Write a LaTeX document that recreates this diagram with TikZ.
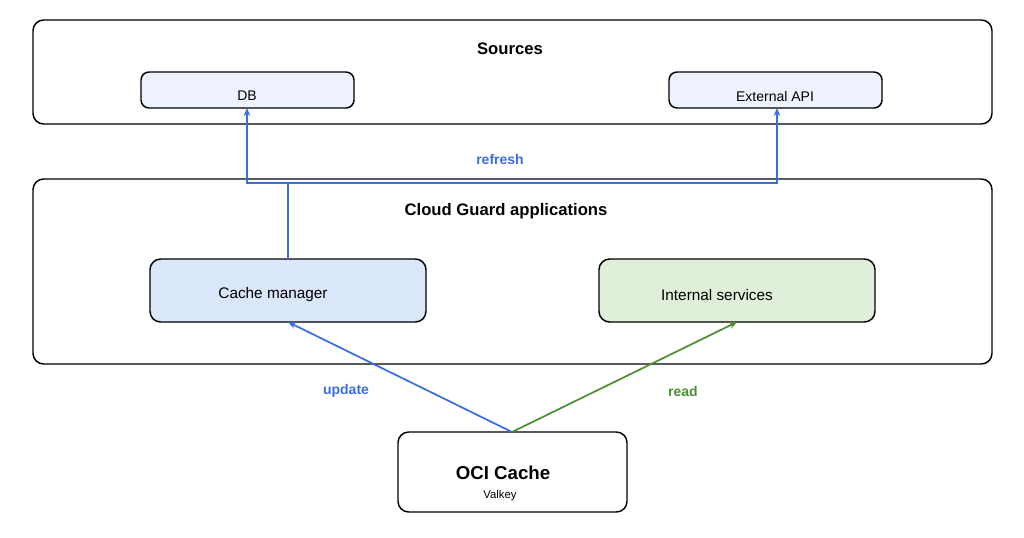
\documentclass[tikz,border=0pt]{standalone}
\usepackage{fontspec}
\setmainfont{Liberation Sans}
\usetikzlibrary{arrows.meta}
\definecolor{bl}{HTML}{3B6FE0}
\definecolor{gr}{HTML}{4E8F33}
\definecolor{lb}{HTML}{EDF2FD}
\definecolor{cb}{HTML}{DAE6FA}
\definecolor{cg}{HTML}{E0EFD9}
\begin{document}
\begin{tikzpicture}[x=0.75pt,y=-0.75pt,
  box/.style={draw=black,line width=1.1pt,rounded corners=8pt},
  sbox/.style={draw=black,line width=1.1pt,rounded corners=6pt},
  arr/.style={line width=1.3pt,-{Stealth[length=6pt,width=5pt]}},
  lbl/.style={font=\bfseries\fontsize{10.5}{12}\selectfont}]
\useasboundingbox (0,0) rectangle (1024,537);
\fill[white] (0,0) rectangle (1024,537);
\draw[box] (33,20) rectangle (992,124);
\node[font=\bfseries\fontsize{12.5}{14}\selectfont] (src) at (510,49) {Sources};
\draw[sbox,fill=lb] (141,72) rectangle (354,108);
\node[font=\fontsize{10.5}{12}\selectfont] (db) at (247,96) {DB};
\draw[sbox,fill=lb] (669,72) rectangle (882,108);
\node[font=\fontsize{10.5}{12}\selectfont] (api) at (775,96) {External API};
\coordinate (dbb) at (247,108);
\coordinate (apib) at (777,108);
\draw[box] (33,179) rectangle (992,364);
\node[font=\bfseries\fontsize{12.5}{14}\selectfont] (cg) at (506,211) {Cloud Guard applications};
\draw[box,fill=cb] (150,259) rectangle (426,322);
\node[font=\fontsize{11.5}{13}\selectfont] (cm) at (273,295) {Cache manager};
\draw[box,fill=cg] (599,259) rectangle (875,322);
\node[font=\fontsize{11.5}{13}\selectfont] (is) at (717,295) {Internal services};
\draw[box] (398,432) rectangle (627,512);
\node[font=\bfseries\fontsize{14}{16}\selectfont] (oci) at (503,473) {OCI Cache};
\node[font=\fontsize{8.5}{10}\selectfont] (val) at (500,496) {Valkey};
\coordinate (cmt) at (288,259);
\coordinate (j) at (288,183);
\coordinate (ot) at (512,432);
\coordinate (cmb) at (288,322);
\coordinate (isb) at (737,322);
\draw[bl,line width=1.3pt] (cmt) -- (j);
\draw[arr,bl] (j) -- (247,183) -- (dbb);
\draw[arr,bl] (j) -- (777,183) -- (apib);
\node[lbl,text=bl] at (500,159) {refresh};
\draw[arr,bl] (ot) -- (cmb);
\draw[arr,gr] (ot) -- (isb);
\node[lbl,text=bl] at (346,391) {update};
\node[lbl,text=gr] at (683,391) {read};
\end{tikzpicture}
\end{document}
